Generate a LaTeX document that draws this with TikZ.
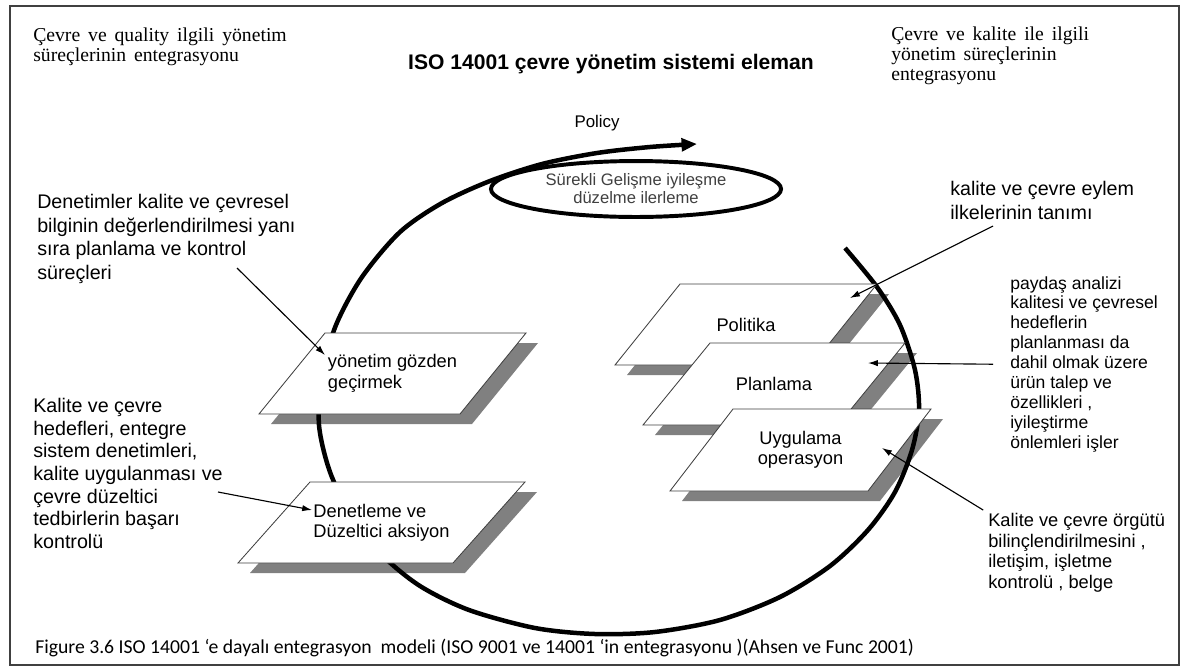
\documentclass[tikz,border=0pt]{standalone}
\usepackage{fontspec}
\setmainfont{Liberation Sans}
\newfontfamily\cornerfont[WordSpace=1.6]{Liberation Serif}
\newfontfamily\captionfont{Carlito}
\usetikzlibrary{arrows.meta,shapes.geometric}

\tikzset{
  frame/.style={draw=black!75,line width=1.4pt},
  plateshadow/.style={fill=black!50},
  platebox/.style={draw=black!75,line width=0.6pt,fill=white},
  platetext/.style={inner sep=0pt,font=\fontsize{13}{14.5}\selectfont},
  loopline/.style={line width=3.2pt,-{Triangle[length=11pt,width=9pt]}},
  pointer/.style={line width=0.8pt,-{Latex[length=7pt,width=4.5pt]}},
  bodytext/.style={anchor=north west,inner sep=0pt,align=left},
}

% name / bottom-left x / top y / bottom width / slant / height / align / text
\def\plates{pYon/259/333/201/66/81/left/{yönetim gözden\\geçirmek},
  pDen/238/482/215/72/81/left/{Denetleme ve\\Düzeltici aksiyon},
  pPol/615/284/197/65/81/center/{Politika},
  pPla/643/343/195/67/82/center/{Planlama},
  pUyg/670/409/198/63/82/center/{Uygulama\\operasyon}}

\begin{document}
\begin{tikzpicture}[x=0.025cm,y=-0.025cm]
\useasboundingbox (0,0) rectangle (1190,666);
\draw[frame] (10,6) rectangle (1179,665);

% shadows first
\foreach \nm/\pxl/\pty/\pbw/\psl/\pht/\pal/\ptxt in \plates
  \fill[plateshadow] ({\pxl+12},{\pty+\pht+10}) -- ++(\pbw,0) -- ++(\psl,-\pht) -- ++(-\pbw,0) -- cycle;

% the improvement loop
\draw[loopline] plot[smooth] coordinates {(845,248) (877,287) (900,325) (915,370) (919,410)
  (912,450) (895,492) (868,530) (830,566) (780,597) (720,620) (655,632) (595,634) (535,628)
  (469,610) (420,586) (382,555) (352,517) (330,472) (319,425) (322,375) (336,325) (362,277)
  (400,232) (442,203) (490,181) (542,164) (597,153) (650,147) (697,144)};

\foreach \nm/\pxl/\pty/\pbw/\psl/\pht/\pal/\ptxt in \plates {
  \draw[platebox] (\pxl,{\pty+\pht}) -- ++(\pbw,0) -- ++(\psl,-\pht) -- ++(-\pbw,0) -- cycle;
  \node[platetext,align=\pal] (\nm) at ({\pxl+(\pbw+\psl)/2},{\pty+\pht/2}) {\ptxt};
}

\node[draw,ellipse,line width=2.8pt,fill=white,minimum width=7.25cm,minimum height=1.3cm,
  align=center,text=black!75,font=\fontsize{11.8}{12.8}\selectfont] (gelisme) at (636,189)
  {Sürekli Gelişme iyileşme\\düzelme ilerleme};

% texts
\node[bodytext,font=\cornerfont\fontsize{14}{13.8}\selectfont] (solUst) at (33,28)
  {Çevre ve quality ilgili yönetim\\süreçlerinin entegrasyonu};
\node[bodytext,font=\cornerfont\fontsize{14}{14.2}\selectfont] (sagUst) at (891,27)
  {Çevre ve kalite ile ilgili\\yönetim süreçlerinin\\entegrasyonu};
\node[anchor=base,font=\bfseries\fontsize{15}{17}\selectfont] (baslik) at (611,69)
  {ISO 14001 çevre yönetim sistemi eleman};
\node[anchor=base,font=\fontsize{12}{14}\selectfont] (policy) at (597,127) {Policy};

\node[bodytext,font=\fontsize{14}{16.7}\selectfont] (denetimler) at (37,194)
  {Denetimler kalite ve çevresel\\bilginin değerlendirilmesi yanı\\sıra planlama ve kontrol\\süreçleri};
\node[bodytext,font=\fontsize{14}{16.1}\selectfont] (hedefler) at (33,398)
  {Kalite ve çevre\\hedefleri, entegre\\sistem denetimleri,\\kalite uygulanması ve\\çevre düzeltici\\tedbirlerin başarı\\kontrolü};
\node[bodytext,font=\fontsize{14}{17}\selectfont] (eylem) at (950,181)
  {kalite ve çevre eylem\\ilkelerinin tanımı};
\node[bodytext,font=\fontsize{12.5}{14.2}\selectfont] (paydas) at (1010,276)
  {paydaş analizi\\kalitesi ve çevresel\\hedeflerin\\planlanması da\\dahil olmak üzere\\ürün talep ve\\özellikleri ,\\iyileştirme\\önlemleri işler};
\node[bodytext,font=\fontsize{13}{14.6}\selectfont] (orgut) at (988,513)
  {Kalite ve çevre örgütü\\bilinçlendirilmesini ,\\iletişim, işletme\\kontrolü , belge};

\node[anchor=base west,inner sep=0pt,font=\captionfont\fontsize{14}{16}\selectfont] (caption) at (35,653)
  {Figure 3.6 ISO 14001 ‘e dayalı entegrasyon\ \ modeli (ISO 9001 ve 14001 ‘in entegrasyonu )(Ahsen ve Func 2001)};

% pointers
\coordinate (denFrom) at (237,268);
\coordinate (yonTo) at (325,355);
\coordinate (hedFrom) at (218,492);
\coordinate (denTo) at (312,510);
\coordinate (eylFrom) at (993,226);
\coordinate (polTo) at (850,298);
\coordinate (plaTo) at (868,363);
\coordinate (uygTo) at (882,448);

\draw[pointer] (denFrom) -- (yonTo);
\draw[pointer] (hedFrom) -- (denTo);
\draw[pointer] (eylFrom) -- (polTo);
\draw[pointer,shorten <=12pt] (paydas.west) -- (plaTo);
\draw[pointer,shorten <=4pt] (orgut.north west) -- (uygTo);

\end{tikzpicture}
\end{document}
